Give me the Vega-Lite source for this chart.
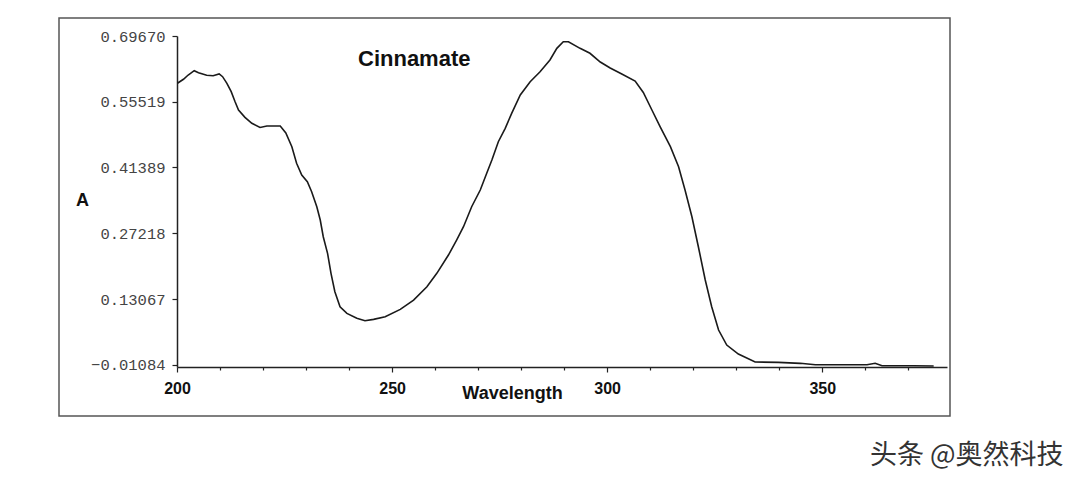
{
  "$schema": "https://vega.github.io/schema/vega-lite/v6.json",
  "width": 891,
  "height": 398,
  "autosize": "none",
  "padding": {"left": 59, "top": 18, "right": 130, "bottom": 67},
  "background": "white",
  "config": {
    "view": {"stroke": "#555", "strokeWidth": 1.5},
    "axis": {"grid": false}
  },
  "title": {
    "text": "Cinnamate",
    "font": "Liberation Sans",
    "fontSize": 22,
    "fontWeight": "bold",
    "color": "#111",
    "anchor": "start",
    "frame": "group",
    "offset": 0,
    "baseline": "top",
    "dx": 299,
    "dy": 53
  },
  "data": {
    "values": [
      {"w": 200.1, "a": 0.5950}, {"w": 201.5, "a": 0.6036}, {"w": 202.6, "a": 0.6128}, {"w": 204.0, "a": 0.6221},
      {"w": 205.0, "a": 0.6178}, {"w": 206.9, "a": 0.6122}, {"w": 208.4, "a": 0.6113}, {"w": 209.8, "a": 0.6150},
      {"w": 210.6, "a": 0.6092}, {"w": 211.6, "a": 0.5950}, {"w": 212.6, "a": 0.5769}, {"w": 213.5, "a": 0.5554},
      {"w": 214.3, "a": 0.5375}, {"w": 215.8, "a": 0.5218}, {"w": 217.4, "a": 0.5089}, {"w": 219.3, "a": 0.4999},
      {"w": 220.9, "a": 0.5031}, {"w": 224.0, "a": 0.5031}, {"w": 225.3, "a": 0.4881}, {"w": 226.7, "a": 0.4586},
      {"w": 227.8, "a": 0.4229}, {"w": 229.0, "a": 0.3977}, {"w": 230.3, "a": 0.3833}, {"w": 231.3, "a": 0.3618},
      {"w": 232.5, "a": 0.3295}, {"w": 233.3, "a": 0.3009}, {"w": 234.0, "a": 0.2650}, {"w": 235.0, "a": 0.2293},
      {"w": 235.8, "a": 0.1863}, {"w": 236.7, "a": 0.1467}, {"w": 237.9, "a": 0.1144}, {"w": 239.5, "a": 0.1002},
      {"w": 241.8, "a": 0.0895}, {"w": 243.7, "a": 0.0843}, {"w": 245.7, "a": 0.0873}, {"w": 248.4, "a": 0.0929},
      {"w": 251.9, "a": 0.1088}, {"w": 255.0, "a": 0.1288}, {"w": 258.1, "a": 0.1574}, {"w": 260.4, "a": 0.1863},
      {"w": 263.1, "a": 0.2256}, {"w": 265.0, "a": 0.2579}, {"w": 266.6, "a": 0.2865}, {"w": 268.5, "a": 0.3295},
      {"w": 270.5, "a": 0.3654}, {"w": 272.0, "a": 0.4014}, {"w": 273.2, "a": 0.4300}, {"w": 274.7, "a": 0.4693},
      {"w": 276.3, "a": 0.4982}, {"w": 277.8, "a": 0.5304}, {"w": 279.8, "a": 0.5698}, {"w": 282.1, "a": 0.5984},
      {"w": 284.4, "a": 0.6199}, {"w": 286.7, "a": 0.6451}, {"w": 288.3, "a": 0.6702}, {"w": 289.8, "a": 0.6844},
      {"w": 291.0, "a": 0.6844}, {"w": 293.7, "a": 0.6702}, {"w": 296.0, "a": 0.6595}, {"w": 298.4, "a": 0.6408},
      {"w": 300.7, "a": 0.6279}, {"w": 303.4, "a": 0.6150}, {"w": 306.5, "a": 0.5999}, {"w": 308.4, "a": 0.5752},
      {"w": 310.4, "a": 0.5375}, {"w": 312.3, "a": 0.5016}, {"w": 314.7, "a": 0.4586}, {"w": 316.6, "a": 0.4156},
      {"w": 318.1, "a": 0.3654}, {"w": 319.7, "a": 0.3080}, {"w": 321.2, "a": 0.2435}, {"w": 322.8, "a": 0.1719},
      {"w": 324.3, "a": 0.1144}, {"w": 325.9, "a": 0.0643}, {"w": 327.8, "a": 0.0320}, {"w": 330.5, "a": 0.0127},
      {"w": 334.4, "a": -0.0045}, {"w": 339.8, "a": -0.0052}, {"w": 344.9, "a": -0.0073}, {"w": 348.4, "a": -0.0103},
      {"w": 360.4, "a": -0.0103}, {"w": 362.3, "a": -0.0073}, {"w": 363.9, "a": -0.0125}, {"w": 371.2, "a": -0.0125},
      {"w": 375.9, "a": -0.0131}
    ]
  },
  "layer": [
    {
      "mark": {"type": "line", "color": "#1a1a1a", "strokeWidth": 1.6},
      "encoding": {
        "x": {
          "field": "w",
          "type": "quantitative",
          "scale": {"domain": [200, 379], "range": [118, 888], "nice": false, "zero": false},
          "axis": {
            "orient": "bottom",
            "offset": -49,
            "values": [200, 210, 220, 230, 240, 250, 260, 270, 280, 290, 300, 310, 320, 330, 340, 350, 360, 370],
            "labelExpr": "round(datum.index*17) % 5 == 0 ? datum.label : ''",
            "domainColor": "#222",
            "domainWidth": 1.5,
            "tickColor": "#222",
            "tickWidth": 1.2,
            "tickSize": {"condition": {"test": "round(datum.index*17) % 5 == 0", "value": 5}, "value": 3},
            "labelFont": "Liberation Sans",
            "labelFontSize": 16,
            "labelFontWeight": "bold",
            "labelColor": "#111",
            "labelPadding": 8,
            "labelFlush": false,
            "title": "Wavelength",
            "titleFont": "Liberation Sans",
            "titleFontSize": 18,
            "titleFontWeight": "bold",
            "titleColor": "#111",
            "titleX": 453,
            "titleY": 31,
            "titleAlign": "center",
            "titleBaseline": "alphabetic"
          }
        },
        "y": {
          "field": "a",
          "type": "quantitative",
          "scale": {"domain": [-0.0152, 0.6967], "range": [349, 18], "nice": false, "zero": false},
          "axis": {
            "orient": "left",
            "offset": -118,
            "values": [-0.01084, 0.059915, 0.13067, 0.201425, 0.27218, 0.342035, 0.41389, 0.48454, 0.55519, 0.625945, 0.6967],
            "labelExpr": "round(datum.index*10) % 2 == 0 ? format(datum.value, '.5f') : ''",
            "domainColor": "#222",
            "domainWidth": 1.5,
            "tickColor": "#222",
            "tickWidth": 1.2,
            "tickSize": {"condition": {"test": "round(datum.index*10) % 2 == 0", "value": 5}, "value": 3},
            "labelFont": "Liberation Mono",
            "labelFontSize": 15.5,
            "labelColor": "#444",
            "labelPadding": 7,
            "labelFlush": false,
            "labelBaseline": "middle",
            "title": "A",
            "titleFont": "Liberation Sans",
            "titleFontSize": 18,
            "titleFontWeight": "bold",
            "titleColor": "#111",
            "titleAngle": 0,
            "titleX": -95,
            "titleY": 182,
            "titleAlign": "center",
            "titleBaseline": "middle"
          }
        }
      }
    },
    {
      "mark": {"type": "line", "strokeOpacity": 0},
      "encoding": {
        "x": {
          "field": "w",
          "type": "quantitative",
          "axis": {
            "orient": "top",
            "domain": false,
            "ticks": false,
            "labels": false,
            "title": "头条 @奥然科技",
            "titleFont": "Noto Sans CJK SC",
            "titleFontSize": 27,
            "titleFontWeight": "normal",
            "titleColor": "#333",
            "titleX": 1004,
            "titleY": 437,
            "titleAlign": "right",
            "titleBaseline": "middle",
            "titleAngle": 0
          }
        },
        "y": {"field": "a", "type": "quantitative"}
      }
    }
  ],
  "resolve": {"axis": {"x": "independent"}}
}
